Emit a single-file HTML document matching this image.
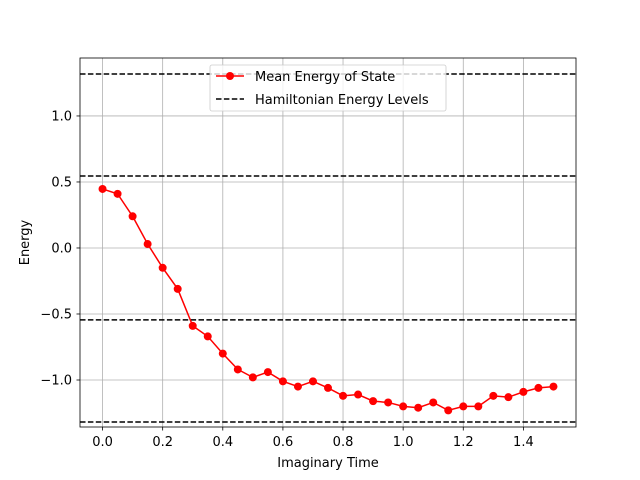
<!DOCTYPE html>
<html><head><meta charset="utf-8"><style>
body{margin:0;background:#fff}
svg{display:block;font-family:"DejaVu Sans","Liberation Sans",sans-serif}
</style></head><body>
<svg id="chart" width="640" height="480">
<rect width="640" height="480" fill="#fff"/>
<g id="grid"></g><g id="hl"></g><g id="series"></g><g id="axes"></g>
</svg>
<script>
const times=[0,0.05,0.1,0.15,0.2,0.25,0.3,0.35,0.4,0.45,0.5,0.55,0.6,0.65,0.7,0.75,0.8,0.85,0.9,0.95,1.0,1.05,1.1,1.15,1.2,1.25,1.3,1.35,1.4,1.45,1.5];
const energies=[0.447,0.41,0.24,0.03,-0.15,-0.31,-0.59,-0.67,-0.80,-0.92,-0.98,-0.94,-1.01,-1.05,-1.01,-1.06,-1.12,-1.11,-1.16,-1.17,-1.20,-1.21,-1.17,-1.23,-1.20,-1.20,-1.12,-1.13,-1.09,-1.06,-1.05];
const levels=[1.318,0.545,-0.545,-1.318];
const xTicks=[0,0.2,0.4,0.6,0.8,1.0,1.2,1.4];
const xTickLabels=["0.0","0.2","0.4","0.6","0.8","1.0","1.2","1.4"];
const yTicks=[-1.0,-0.5,0.0,0.5,1.0];
const yTickLabels=["\u22121.0","\u22120.5","0.0","0.5","1.0"];
const L=80,R=576,T=58,B=427,x0=-0.075,x1=1.575,y0=-1.356,y1=1.439;
const X=v=>L+(v-x0)/(x1-x0)*(R-L), Y=v=>B-(v-y0)/(y1-y0)*(B-T);
const NS="http://www.w3.org/2000/svg";
function mk(p,t,a){const e=document.createElementNS(NS,t);for(const k in a)e.setAttribute(k,a[k]);p.appendChild(e);return e;}
const g=document.getElementById('grid'),hl=document.getElementById('hl'),s=document.getElementById('series'),ax=document.getElementById('axes');
xTicks.forEach((v,i)=>{
 let l=mk(g,'line',{x1:X(v),x2:X(v),y1:T,y2:B,stroke:'#b0b0b0','stroke-width':0.8});
 
 mk(ax,'line',{x1:X(v),x2:X(v),y1:B,y2:B+3.5,stroke:'#000','stroke-width':0.8});
 let t=mk(ax,'text',{x:X(v),y:B+19,'font-size':13,'text-anchor':'middle'});t.textContent=xTickLabels[i];
 
});
yTicks.forEach((v,i)=>{
 let l=mk(g,'line',{x1:L,x2:R,y1:Y(v),y2:Y(v),stroke:'#b0b0b0','stroke-width':0.8});
 
 mk(ax,'line',{x1:L-3.5,x2:L,y1:Y(v),y2:Y(v),stroke:'#000','stroke-width':0.8});
 let t=mk(ax,'text',{x:L-8,y:Y(v)+4.5,'font-size':13,'text-anchor':'end'});t.textContent=yTickLabels[i];
 
});
levels.forEach(v=>{
 let l=mk(hl,'line',{x1:L,x2:R,y1:Y(v),y2:Y(v),stroke:'#000','stroke-width':1.5,'stroke-dasharray':'5.5,2.4'});
 
});
let pl=mk(s,'polyline',{points:times.map((t,i)=>X(t)+','+Y(energies[i])).join(' '),fill:'none',stroke:'#f00','stroke-width':1.5});

times.forEach((t,i)=>{let c=mk(s,'circle',{cx:X(t),cy:Y(energies[i]),r:4,fill:'#f00'});
 });
let fr=mk(ax,'rect',{x:L,y:T,width:R-L,height:B-T,fill:'none',stroke:'#000','stroke-width':0.8});

let xl=mk(ax,'text',{x:(L+R)/2,y:467,'font-size':13,'text-anchor':'middle'});xl.textContent='Imaginary Time';

let yl=mk(ax,'text',{x:29,y:(T+B)/2,'font-size':13,'text-anchor':'middle',transform:'rotate(-90 29 '+(T+B)/2+')'});yl.textContent='Energy';

const lg=mk(ax,'g',{});
mk(lg,'rect',{x:210,y:65,width:236,height:46,rx:2,fill:'#fff','fill-opacity':0.8,stroke:'#ccc','stroke-width':0.8});
mk(lg,'line',{x1:216,x2:244,y1:76,y2:76,stroke:'#f00','stroke-width':1.5});
mk(lg,'circle',{cx:230,cy:76,r:4,fill:'#f00'});
let t1=mk(lg,'text',{x:255,y:81,'font-size':13});t1.textContent='Mean Energy of State';

mk(lg,'line',{x1:216,x2:244,y1:99,y2:99,stroke:'#000','stroke-width':1.5,'stroke-dasharray':'5.5,2.4'});
let t2=mk(lg,'text',{x:255,y:104,'font-size':13});t2.textContent='Hamiltonian Energy Levels';

</script>
</body></html>
